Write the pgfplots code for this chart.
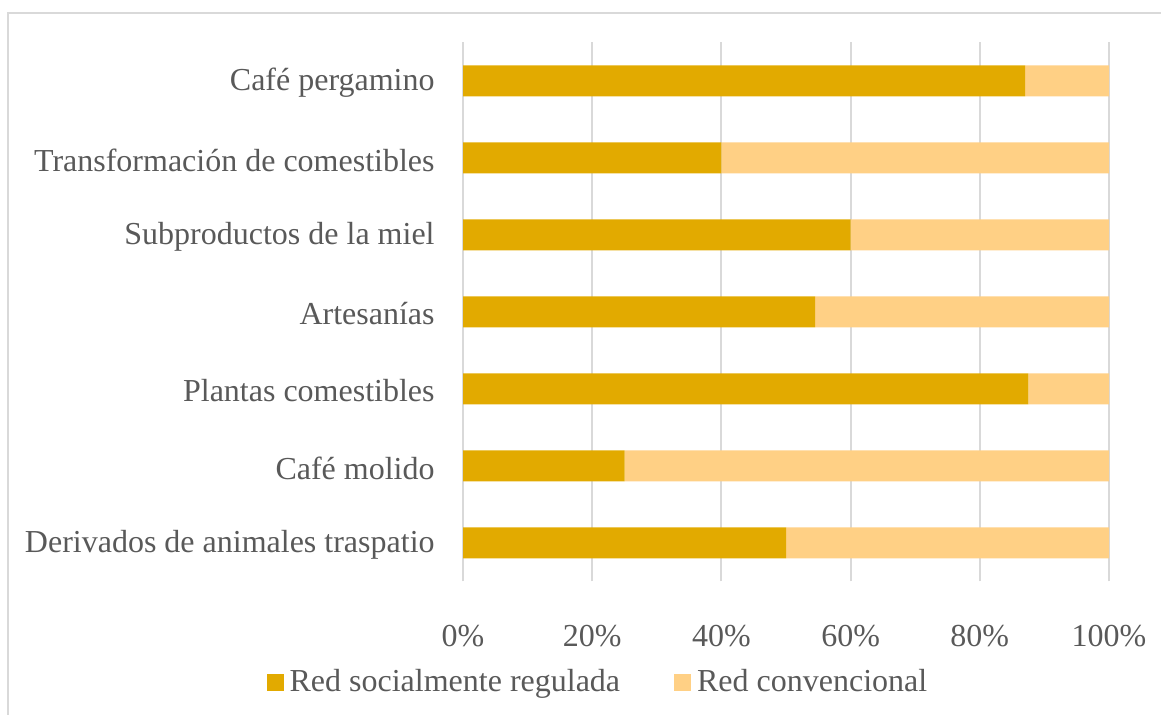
\documentclass[border=0pt]{standalone}
\usepackage{fontspec}
\setmainfont{Liberation Serif}
\usepackage{pgfplots}
\pgfplotsset{compat=1.18}
\definecolor{darkgold}{HTML}{E2AA00}
\definecolor{lightgold}{HTML}{FFD085}
\definecolor{txt}{HTML}{595959}
\definecolor{gridc}{HTML}{D9D9D9}
\begin{document}
\begin{tikzpicture}
\useasboundingbox (0,0) rectangle (580.5pt,357.5pt);
\draw[gridc, line width=0.9pt] (4pt,0) -- (4pt,351pt) -- (580.5pt,351pt);
\begin{axis}[
  at={(231.5pt,66.75pt)}, anchor=south west,
  scale only axis, width=323pt, height=269.5pt,
  xbar stacked, bar width=15.5pt,
  xmin=0, xmax=100, ymin=-0.5, ymax=6.5,
  ytick={0,1,2,3,4,5,6},
  yticklabels={Derivados de animales traspatio, Café molido, Plantas comestibles, Artesanías, Subproductos de la miel, Transformación de comestibles, Café pergamino},
  xtick={0,20,40,60,80,100},
  xticklabels={0\%,20\%,40\%,60\%,80\%,100\%},
  axis line style={draw=none}, major tick length=0pt,
  xmajorgrids, grid style={gridc, line width=1pt},
  y tick label style={font=\fontsize{16pt}{19pt}\selectfont, text=txt, inner sep=0pt, xshift=-14pt, yshift=-1pt},
  x tick label style={font=\fontsize{16pt}{19pt}\selectfont, text=txt, inner sep=0pt, yshift=-21.5pt},
  legend columns=2,
  legend style={at={(0.212,-0.187)}, anchor=center, draw=none, fill=none,
    font=\fontsize{16pt}{19pt}\selectfont, text=txt,
    nodes={inner sep=3pt},
    /tikz/every even column/.append style={column sep=24pt}},
  legend image code/.code={\fill[#1] (0pt,-4.25pt) rectangle (8.5pt,4.25pt);},
]
\addplot[fill=darkgold, draw=none] coordinates {(50,0) (25,1) (87.5,2) (54.5,3) (60,4) (40,5) (87,6)};
\addplot[fill=lightgold, draw=none] coordinates {(50,0) (75,1) (12.5,2) (45.5,3) (40,4) (60,5) (13,6)};
\legend{Red socialmente regulada, Red convencional}
\end{axis}
\end{tikzpicture}
\end{document}
